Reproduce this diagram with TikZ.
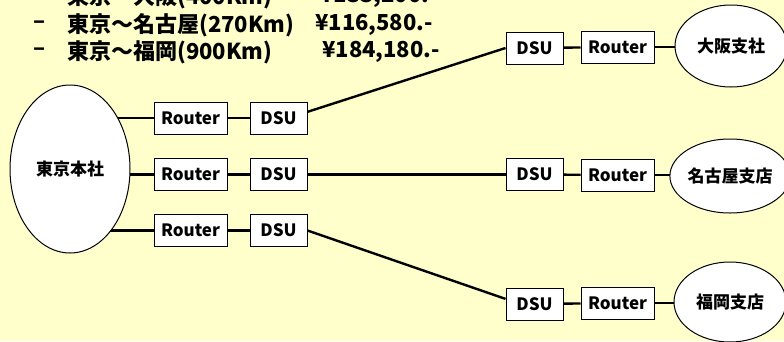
\documentclass[tikz,border=0pt]{standalone}
\usepackage{fontspec}
\setmainfont{Noto Sans CJK JP}
\usepackage{xcolor}
\usetikzlibrary{shapes.geometric}
\definecolor{nwpaper}{HTML}{FFFFCC}
\pgfdeclarelayer{wires}
\pgfsetlayers{wires,main}
\tikzset{
  nwbox/.style={draw=black, fill=white, line width=1pt, minimum width=73pt, minimum height=32pt, inner sep=0pt, font=\fontsize{17}{20}\selectfont\bfseries},
  nwdsu/.style={nwbox, minimum width=57pt},
  nwsite/.style={ellipse, draw=black, fill=white, line width=1pt, inner sep=0pt, minimum width=112pt, font=\fontsize{17}{20}\selectfont\bfseries},
  nwwire/.style={line width=2.4pt, draw=black, line cap=butt},
  nwhead/.style={anchor=west, inner sep=0pt, font=\fontsize{22}{24}\selectfont\bfseries},
}

\begin{document}
\begin{tikzpicture}[x=1pt, y=-1pt]
\useasboundingbox (0,0) rectangle (784,341);
\begin{pgfonlayer}{wires}
\fill[nwpaper] (0,0) rectangle (784,341);
\end{pgfonlayer}
\clip (0,0) rectangle (784,341);
% price list
\node[nwhead] (route1) at (67,-3) {東京～大阪(400Km)};
\node[nwhead] (price1) at (320,-3) {¥133,200.-};
\node[nwhead] (dash2) at (33,25) {–};
\node[nwhead] (route2) at (67,25) {東京～名古屋(270Km)};
\node[nwhead] (price2) at (315,25) {¥116,580.-};
\node[nwhead] (dash3) at (33,52) {–};
\node[nwhead] (route3) at (67,52) {東京～福岡(900Km)};
\node[nwhead] (price3) at (322,52) {¥184,180.-};
% head office
\node[nwsite, minimum width=120pt, minimum height=168pt] (tokyo) at (70,169) {東京本社};
\node[nwbox] (rtL1) at (190.5,118) {Router};
\node[nwbox] (rtL2) at (190.5,174.5) {Router};
\node[nwbox] (rtL3) at (190.5,230.5) {Router};
\node[nwdsu] (dsuL1) at (278.5,118) {DSU};
\node[nwdsu] (dsuL2) at (278.5,174.5) {DSU};
\node[nwdsu] (dsuL3) at (278.5,230.5) {DSU};
% branches
\node[nwdsu] (dsuR1) at (534.5,48) {DSU};
\node[nwdsu] (dsuR2) at (534.5,174.5) {DSU};
\node[nwdsu] (dsuR3) at (534.5,304) {DSU};
\node[nwbox] (rtR1) at (617.5,47) {Router};
\node[nwbox] (rtR2) at (617.5,175) {Router};
\node[nwbox] (rtR3) at (617.5,303) {Router};
\node[nwsite, minimum height=82pt] (osaka) at (731,46) {大阪支社};
\node[nwsite, minimum height=74pt] (nagoya) at (730,176) {名古屋支店};
\node[nwsite, minimum height=80pt] (fukuoka) at (730,302) {福岡支店};
\begin{pgfonlayer}{wires}
\draw[nwwire] (tokyo.center |- rtL1) -- (rtL1);
\draw[nwwire] (tokyo.center |- rtL2) -- (rtL2);
\draw[nwwire] (tokyo.center |- rtL3) -- (rtL3);
\draw[nwwire] (rtL1) -- (dsuL1);
\draw[nwwire] (rtL2) -- (dsuL2);
\draw[nwwire] (rtL3) -- (dsuL3);
\draw[nwwire] (dsuL1.12) -- (dsuR1.west);
\draw[nwwire] (dsuL2) -- (dsuR2);
\draw[nwwire] (dsuL3.east) -- (dsuR3.170);
\draw[nwwire] (dsuR1) -- (rtR1);
\draw[nwwire] (dsuR2) -- (rtR2);
\draw[nwwire] (dsuR3) -- (rtR3);
\draw[nwwire] (rtR1) -- (rtR1 -| osaka.center);
\draw[nwwire] (rtR2) -- (rtR2 -| nagoya.center);
\draw[nwwire] (rtR3) -- (rtR3 -| fukuoka.center);
\end{pgfonlayer}
\end{tikzpicture}
\end{document}
